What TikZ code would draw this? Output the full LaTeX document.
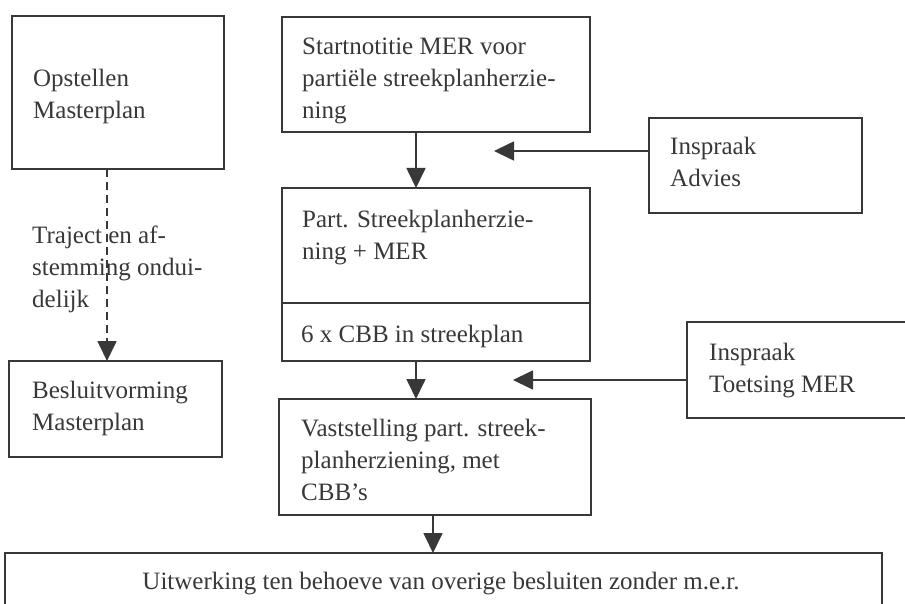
\documentclass[tikz,border=0pt]{standalone}
\usepackage{fontspec}
\setmainfont{Liberation Serif}
\usetikzlibrary{arrows.meta}
\definecolor{ink}{HTML}{383838}
\begin{document}
\begin{tikzpicture}[x=1pt,y=-1pt,
  box/.style={draw=ink, line width=1.7pt, inner sep=0pt, outer sep=0pt, anchor=north west},
  % multi-line texts are placed by the baseline of their last line
  txt/.style={anchor=base west, align=left, inner sep=0pt, text=ink,
    font=\fontsize{25}{32}\selectfont},
  rule/.style={draw=ink, line width=1.7pt},
  flow/.style={draw=ink, line width=1.7pt, -{Triangle[length=20pt,width=19pt]}},
  dashedflow/.style={flow, dash pattern=on 8pt off 5pt},
]
\useasboundingbox (0,0) rectangle (905,604);
\clip (0,0) rectangle (905,604);

% boxes
\node[box, minimum width=212pt, minimum height=153pt] (opst) at (12,16) {};
\node[box, minimum width=213pt, minimum height=96pt]  (besl) at (9,361) {};
\node[box, minimum width=308pt, minimum height=115pt] (start) at (282,17) {};
\node[box, minimum width=308pt, minimum height=173pt] (part) at (282,188) {};
\node[box, minimum width=312pt, minimum height=116pt] (vast) at (279,399) {};
\node[box, minimum width=213pt, minimum height=95pt]  (advies) at (649,118) {};
\node[box, minimum width=240pt, minimum height=96pt]  (toets) at (687,322) {};
\node[box, minimum width=877pt, minimum height=80pt]  (uitw) at (5,553) {};

% divider inside the revision box
\draw[rule] ([yshift=-115pt]part.north west) -- ([yshift=-115pt]part.north east);

% texts
\node[txt] (tOpst) at (33,119) {Opstellen\\Masterplan};
\node[txt] (tBesl) at (32,430) {Besluitvorming\\Masterplan};
\node[txt] (tStart) at (302,119) {Startnotitie MER voor\\partiële streekplanherzie-\\ning};
\node[txt] (tPart) at (302,259) {Part. Streekplanherzie-\\ning + MER};
\node[txt] (tCbb) at (301,342) {6 x CBB in streekplan};
\node[txt] (tVast) at (301,500) {Vaststelling part. streek-\\planherziening, met\\CBB’s};
\node[txt] (tAdv) at (670,187) {Inspraak\\Advies};
\node[txt] (tToets) at (709,392) {Inspraak\\Toetsing MER};
\node[txt, anchor=base] (tUitw) at (441,589) {Uitwerking ten behoeve van overige besluiten zonder m.e.r.};

% columns and free ends of the connectors
\coordinate (colL) at (107,0);
\coordinate (colA) at (416,0);
\coordinate (colB) at (433,0);
\coordinate (tipA) at (494,151);
\coordinate (tipB) at (513,380);

% connectors
\draw[dashedflow] (opst.south -| colL) -- (besl.north -| colL);
\draw[flow] (start.south -| colA) -- (part.north -| colA);
\draw[flow] (part.south -| colA) -- (vast.north -| colA);
\draw[flow] (vast.south -| colB) -- (uitw.north -| colB);
\draw[flow] (advies.west |- tipA) -- (tipA);
\draw[flow] (toets.west |- tipB) -- (tipB);

% label over the dashed connector
\node[txt] (tTraj) at (32,307) {Traject en af-\\stemming ondui-\\delijk};
\end{tikzpicture}
\end{document}
